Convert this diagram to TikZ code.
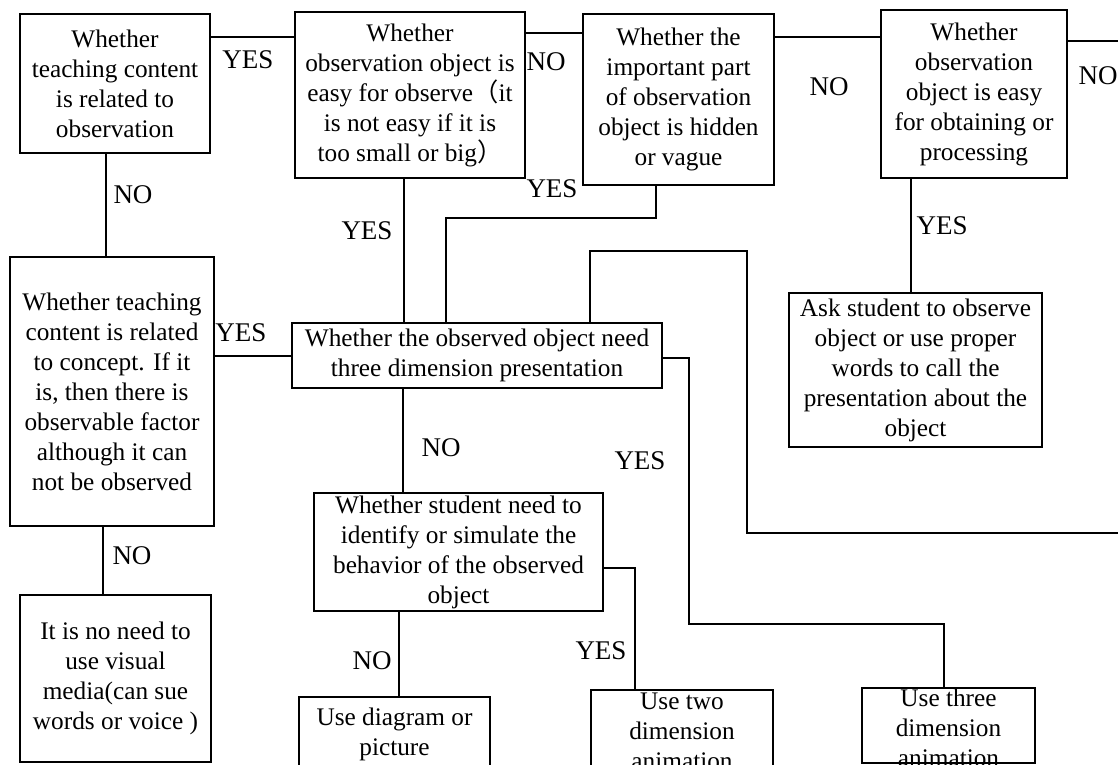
\documentclass[tikz,border=0pt]{standalone}
\usepackage{fontspec}
\setmainfont{Liberation Serif}
\newfontfamily\cjkfont{Noto Sans CJK SC}
\begin{document}
\begin{tikzpicture}[x=1pt,y=-1pt,
  box/.style={draw, line width=2.6pt, rectangle, inner sep=0pt, align=center,
    font=\fontsize{25.3}{30}\selectfont},
  txt/.style={inner sep=0pt, align=center, font=\fontsize{25.3}{30}\selectfont},
  lab/.style={inner sep=0pt, font=\fontsize{27}{30}\selectfont},
  conn/.style={line width=2.6pt}]
\useasboundingbox (0,0) rectangle (1118,764);
\clip (0,0) rectangle (1118,764);
% boxes
\node[box, minimum width=190, minimum height=139] (A) at (115,83.5)
  {Whether\\teaching content\\is related to\\observation};
\node[box, minimum width=230, minimum height=166] (B) at (410,95)
  {Whether\\observation object is\\easy for observe{\cjkfont （}it\\is not easy if it is\\too small or big{\cjkfont ）}};
\node[box, minimum width=191, minimum height=171] (C) at (678.5,99.5)
  {Whether the\\important part\\of observation\\object is hidden\\or vague};
\node[box, minimum width=186, minimum height=168] (D) at (974,94)
  {Whether\\observation\\object is easy\\for obtaining or\\processing};
\node[box, minimum width=253, minimum height=154] (E) at (915.5,370)
  {Ask student to observe\\object or use proper\\words to call the\\presentation about the\\object};
\node[box, minimum width=204, minimum height=269] (F) at (112,391.5)
  {Whether teaching\\content is related\\to concept. If it\\is, then there is\\observable factor\\although it can\\not be observed};
\node[box, minimum width=370, minimum height=65] (G) at (477,355.5)
  {Whether the observed object need\\three dimension presentation};
\node[box, minimum width=191, minimum height=167] (H) at (115.5,678.5)
  {It is no need to\\use visual\\media(can sue\\words or voice )};
\node[box, minimum width=289, minimum height=118] (I) at (458.5,552)
  {Whether student need to\\identify or simulate the\\behavior of the observed\\object};
\node[box, minimum width=191, minimum height=74] (J) at (394.5,734)
  {Use diagram or\\picture};
\node[box, minimum width=182, minimum height=83] (K) at (682,731.5)
  {Use two\\dimension\\animation};
\node[box, minimum width=173, minimum height=75] (L) at (948.5,725.5) {};
\node[txt] (Lt) at (948.5,727.5) {Use three\\dimension\\animation};
% free ends
\coordinate (Dout) at (1120,41);
\coordinate (Gout) at (1120,533);
% connectors
\draw[conn] (A.east |- 0,37) -- (B.west |- 0,37);
\draw[conn] (B.east |- 0,33) -- (C.west |- 0,33);
\draw[conn] (C.east |- 0,37) -- (D.west |- 0,37);
\draw[conn] (D.east |- 0,41) -- (Dout);
\draw[conn] (106,0 |- A.south) -- (106,0 |- F.north);
\draw[conn] (F.east |- 0,356) -- (G.west |- 0,356);
\draw[conn] (103,0 |- F.south) -- (103,0 |- H.north);
\draw[conn] (404,0 |- B.south) -- (404,0 |- G.north);
\draw[conn] (656,0 |- C.south) -- (656,218) -- (446,218) -- (446,0 |- G.north);
\draw[conn] (911,0 |- D.south) -- (911,0 |- E.north);
\draw[conn] (590,0 |- G.north) -- (590,251) -- (747,251) -- (747,533) -- (Gout);
\draw[conn] (G.east |- 0,358) -- (689,358) -- (689,624) -- (944,624) -- (944,0 |- L.north);
\draw[conn] (403,0 |- G.south) -- (403,0 |- I.north);
\draw[conn] (I.east |- 0,568) -- (635,568) -- (635,0 |- K.north);
\draw[conn] (399,0 |- I.south) -- (399,0 |- J.north);
% labels
\node[lab] (l1) at (248,60) {YES};
\node[lab] (l2) at (546,62) {NO};
\node[lab] (l3) at (829,87) {NO};
\node[lab] (l4) at (1098,76) {NO};
\node[lab] (l5) at (133,195) {NO};
\node[lab] (l6) at (552,189) {YES};
\node[lab] (l7) at (367,231) {YES};
\node[lab] (l8) at (942,226) {YES};
\node[lab] (l9) at (241,333) {YES};
\node[lab] (l10) at (441,448) {NO};
\node[lab] (l11) at (640,461) {YES};
\node[lab] (l12) at (132,556) {NO};
\node[lab] (l13) at (372,661) {NO};
\node[lab] (l14) at (601,651) {YES};
\end{tikzpicture}
\end{document}
